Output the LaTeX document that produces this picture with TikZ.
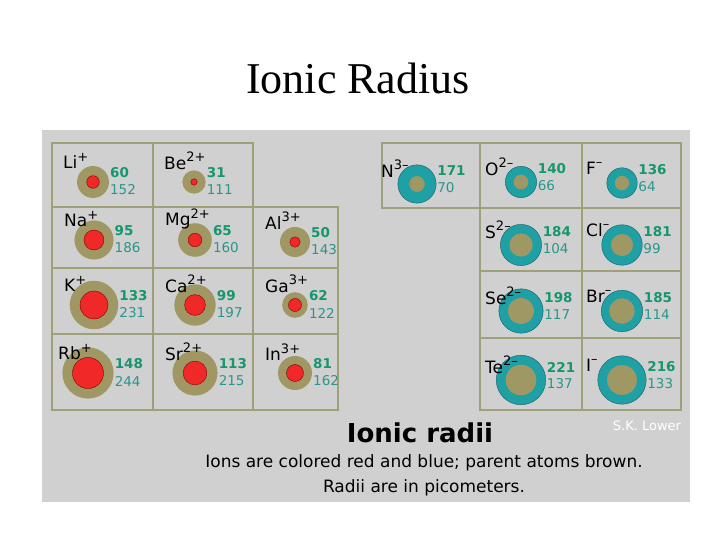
\documentclass[tikz,border=0pt]{standalone}
\usepackage{fontspec}
\setmainfont{Liberation Serif}
\newfontfamily\vf{DejaVu Sans}
\newcommand{\chg}[1]{\raisebox{0.45em}{\fontsize{13}{13}\selectfont #1}}
\begin{document}
\begin{tikzpicture}[x=1pt,y=-1pt,
  grid/.style={draw=gridc,line width=1.2pt},
  sym/.style={font=\vf\fontsize{17}{17}\selectfont,anchor=west,inner sep=0},
  ionv/.style={font=\vf\bfseries\fontsize{13.5}{13.5}\selectfont,text=ionc,anchor=west,inner sep=0},
  atv/.style={font=\vf\fontsize{13.5}{13.5}\selectfont,text=atc,anchor=west,inner sep=0}]
\definecolor{panel}{RGB}{208,208,208}
\definecolor{gridc}{RGB}{160,160,120}
\definecolor{brownc}{RGB}{160,152,100}
\definecolor{redc}{RGB}{240,40,40}
\definecolor{tealc}{RGB}{30,160,165}
\definecolor{ionc}{RGB}{20,150,110}
\definecolor{atc}{RGB}{40,150,140}
\useasboundingbox (0,0) rectangle (720,540);
\fill[white] (0,0) rectangle (720,540);
\node (title) at (358,78) {\fontsize{44}{44}\selectfont Ionic Radius};
\fill[panel] (42,130) rectangle (690,502);
% left grid
\draw[grid] (52,143) rectangle (253,207);
\draw[grid] (153,143) -- (153,410);
\draw[grid] (52,207) rectangle (338,410);
\draw[grid] (52,268) -- (338,268) (52,334) -- (338,334) (253,207) -- (253,410);
% right grid
\draw[grid] (382,143) rectangle (681,208);
\draw[grid] (480,143) -- (480,410) (582,143) -- (582,410);
\draw[grid] (480,208) rectangle (681,410);
\draw[grid] (480,271) -- (681,271) (480,338) -- (681,338);
\def\s{0.105}
\def\t{0.112}
\foreach \n/\x/\y/\lab/\cg/\i/\a in {li/93/182/Li/+/60/152, be/194/182/Be/2+/31/111,
  na/94/240/Na/+/95/186, mg/195/240/Mg/2+/65/160, al/295/242/Al/3+/50/143,
  k/94/305/K/+/133/231, ca/195/305/Ca/2+/99/197, ga/295/305/Ga/3+/62/122,
  rb/88/373/Rb/+/148/244, sr/195/373/Sr/2+/113/215, in/295/373/In/3+/81/162}{
  \fill[brownc] (\x,\y) circle ({\a*\s});
  \draw[fill=redc,draw=red!50!black,line width=0.4pt] (\x,\y) circle ({\i*\s});
  \node[sym] (s\n) at (\x-30,\y-21) {\lab\chg{\cg}};
  \node[ionv] (i\n) at ({\x+\a*\s+1},\y-9) {\i};
  \node[atv] (a\n) at ({\x+\a*\s+1},\y+8) {\a};
}
\foreach \n/\x/\y/\lab/\cg/\i/\a in {n/417/184/N/3–/171/70, o/521/182/O/2–/140/66, f/622/183/F/–/136/64,
  s/521/245/S/2–/184/104, cl/622/245/Cl/–/181/99,
  se/521/311/Se/2–/198/117, br/622/311/Br/–/185/114,
  te/521/380/Te/2–/221/137, io/622/380/I/–/216/133}{
  \draw[fill=tealc,draw=tealc!60!black,line width=0.4pt] (\x,\y) circle ({\i*\t});
  \fill[brownc] (\x,\y) circle ({\a*\t});
  \node[sym] (s\n) at (\x-36,\y-15) {\lab\chg{\cg}};
  \node[ionv] (i\n) at ({\x+\i*\t+1},\y-13) {\i};
  \node[atv] (a\n) at ({\x+\i*\t+1},\y+4) {\a};
}
\node[font=\vf\bfseries\fontsize{26}{26}\selectfont] (h) at (420,433) {Ionic radii};
\node[font=\vf\fontsize{17}{17}\selectfont] (l1) at (424,463) {Ions are colored red and blue; parent atoms brown.};
\node[font=\vf\fontsize{17}{17}\selectfont] (l2) at (424,488) {Radii are in picometers.};
\node[font=\vf\fontsize{13}{13}\selectfont,text=white] (sk) at (647,426) {S.K. Lower};
\end{tikzpicture}
\end{document}
